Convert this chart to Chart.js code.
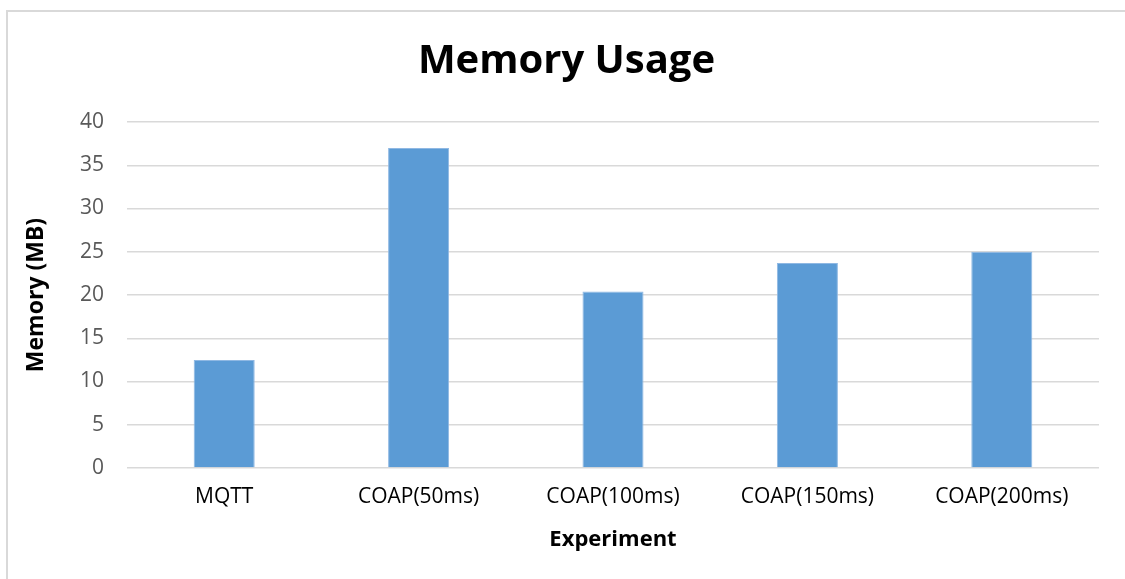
<!DOCTYPE html>
<html>
<head>
<meta charset="utf-8">
<title>Memory Usage</title>
<script src="https://cdn.jsdelivr.net/npm/chart.js@4"></script>
<style>
  html, body { margin: 0; padding: 0; background: #fff; }
  #wrap { position: relative; width: 1125px; height: 579px; overflow: hidden; }
  #frame {
    position: absolute; left: 6px; top: 10px; width: 1200px; height: 700px;
    border-left: 2px solid #d9d9d9; border-top: 2px solid #d9d9d9;
    pointer-events: none;
  }
  canvas { position: absolute; left: 0; top: 0; }
</style>
</head>
<body>
<div id="wrap">
  <canvas id="chart" width="1125" height="579"></canvas>
  <div id="frame"></div>
</div>
<script>
// values
const experiments = ["MQTT", "COAP(50ms)", "COAP(100ms)", "COAP(150ms)", "COAP(200ms)"];
const memoryMB = [12.5, 37.0, 20.4, 23.7, 25.0];
const yTicks = [0, 5, 10, 15, 20, 25, 30, 35, 40];

const FONT = "'Open Sans', 'Liberation Sans', sans-serif";

new Chart(document.getElementById("chart"), {
  type: "bar",
  data: {
    labels: experiments,
    datasets: [
      {
        label: "Memory (MB)",
        data: memoryMB,
        backgroundColor: "#5b9bd5",
        borderColor: "#8fb8e3",
        borderWidth: 1,
        barPercentage: 0.314,
        categoryPercentage: 1
      }
    ]
  },
  options: {
    responsive: false,
    animation: false,
    layout: { padding: { left: 8, right: 0, top: 0, bottom: 0 } },
    plugins: {
      legend: { display: false },
      tooltip: { enabled: false },
      title: {
        display: true,
        text: "Memory Usage",
        color: "#000",
        font: { family: FONT, size: 40, weight: "bold" },
        padding: { top: 38, bottom: 36 }
      }
    },
    scales: {
      x: {
        grid: { display: false, drawTicks: false },
        border: { display: false },
        ticks: { color: "#000", font: { family: FONT, size: 21 }, padding: 16 },
        title: {
          display: true,
          text: "Experiment",
          color: "#000",
          font: { family: FONT, size: 22, weight: "bold" },
          padding: { top: 14, bottom: 26 }
        },
        afterFit: (s) => { s.height = 111; }
      },
      y: {
        min: 0,
        max: 40,
        afterBuildTicks: (s) => { s.ticks = yTicks.map((v) => ({ value: v })); },
        grid: { color: "#d9d9d9", lineWidth: 1.5, drawTicks: false },
        border: { display: false },
        ticks: { color: "#595959", font: { family: FONT, size: 21 }, padding: 23 },
        title: {
          display: true,
          text: "Memory (MB)",
          color: "#000",
          font: { family: FONT, size: 23, weight: "bold" },
          padding: { top: 15, bottom: 8 }
        },
        afterFit: (s) => { s.width = 119; }
      },
      // empty right-hand spacer so the plot stops short of the right edge
      yRight: {
        position: "right",
        display: true,
        grid: { display: false, drawTicks: false },
        border: { display: false },
        ticks: { display: false },
        afterFit: (s) => { s.width = 26; }
      }
    }
  }
});
</script>
</body>
</html>
